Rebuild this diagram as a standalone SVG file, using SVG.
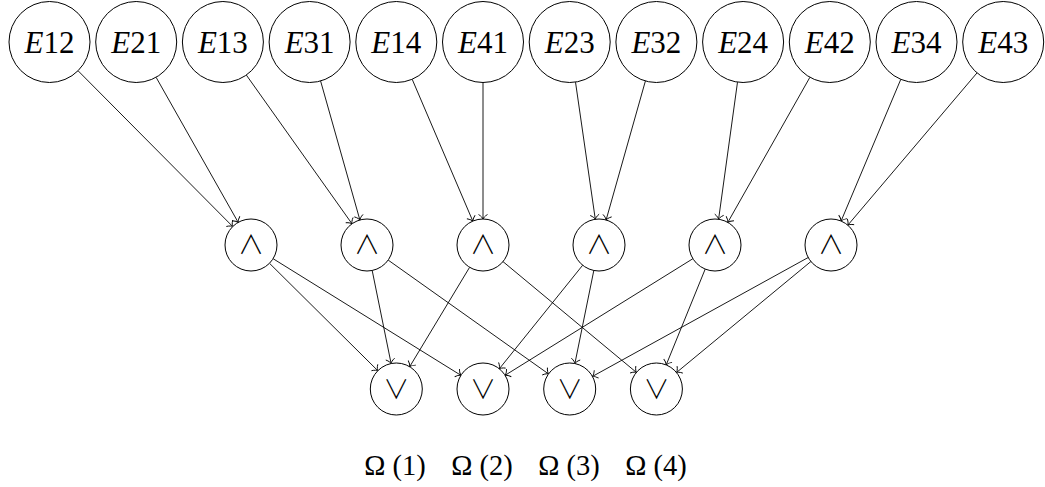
<svg xmlns="http://www.w3.org/2000/svg" width="1045" height="487" viewBox="0 0 1045 487">
<style>
.n{fill:#fff;stroke:#000;stroke-width:1}
.t{font-family:"Liberation Serif",serif;font-size:31px;text-anchor:middle}
.op{font-family:"Noto Sans CJK JP","DejaVu Sans",sans-serif;font-weight:300;font-size:26px;text-anchor:middle}
.lb{font-family:"Liberation Serif",serif;font-size:28.5px;text-anchor:middle}
.e{stroke:#000;stroke-width:0.9;fill:none;marker-end:url(#to)}
</style>
<defs>
<marker id="to" markerUnits="userSpaceOnUse" markerWidth="12" markerHeight="12" viewBox="-6 -6 12 12" refX="0" refY="0" orient="auto" overflow="visible">
<path d="M-4.5,-4.5 C-2.8,-1.6 -0.9,-0.4 0,0 C-0.9,0.4 -2.8,1.6 -4.5,4.5" fill="none" stroke="#000" stroke-width="0.9"/>
</marker>
</defs>
<g id="connectors">
<line class="e" x1="78.0" y1="70.7" x2="232.7" y2="226.5"/>
<line class="e" x1="156.1" y1="77.3" x2="238.2" y2="222.4"/>
<line class="e" x1="246.3" y1="75.0" x2="352.0" y2="223.8"/>
<line class="e" x1="320.6" y1="81.0" x2="359.9" y2="220.0"/>
<line class="e" x1="412.2" y1="79.3" x2="472.8" y2="221.1"/>
<line class="e" x1="483" y1="82.5" x2="483" y2="219"/>
<line class="e" x1="575.5" y1="82.1" x2="595.3" y2="219.3"/>
<line class="e" x1="645.4" y1="81.0" x2="606.1" y2="220.0"/>
<line class="e" x1="737.5" y1="82.1" x2="718.6" y2="219.2"/>
<line class="e" x1="809.9" y1="77.3" x2="727.8" y2="222.4"/>
<line class="e" x1="900.8" y1="79.3" x2="841.1" y2="221.0"/>
<line class="e" x1="977.0" y1="72.9" x2="847.8" y2="225.2"/>
<line class="e" x1="269.5" y1="263.3" x2="377.8" y2="370.7"/>
<line class="e" x1="273.1" y1="258.7" x2="460.9" y2="375.3"/>
<line class="e" x1="372.2" y1="270.5" x2="391.1" y2="363.5"/>
<line class="e" x1="388.2" y1="260.1" x2="548.5" y2="373.9"/>
<line class="e" x1="469.6" y1="267.3" x2="409.7" y2="366.7"/>
<line class="e" x1="503.0" y1="261.6" x2="636.4" y2="372.4"/>
<line class="e" x1="582.7" y1="265.2" x2="499.3" y2="368.8"/>
<line class="e" x1="593.8" y1="270.5" x2="574.9" y2="363.5"/>
<line class="e" x1="692.9" y1="258.7" x2="505.1" y2="375.3"/>
<line class="e" x1="705.2" y1="269.1" x2="666.2" y2="364.9"/>
<line class="e" x1="808.2" y1="257.5" x2="592.5" y2="376.4"/>
<line class="e" x1="810.9" y1="261.5" x2="676.5" y2="372.5"/>
</g>
<g id="E12"><circle class="n" cx="49.5" cy="42" r="40.5"/><text class="t" x="49.5" y="53"><tspan font-style="italic">E</tspan>12</text></g>
<g id="E21"><circle class="n" cx="136.2" cy="42" r="40.5"/><text class="t" x="136.2" y="53"><tspan font-style="italic">E</tspan>21</text></g>
<g id="E13"><circle class="n" cx="222.9" cy="42" r="40.5"/><text class="t" x="222.9" y="53"><tspan font-style="italic">E</tspan>13</text></g>
<g id="E31"><circle class="n" cx="309.6" cy="42" r="40.5"/><text class="t" x="309.6" y="53"><tspan font-style="italic">E</tspan>31</text></g>
<g id="E14"><circle class="n" cx="396.3" cy="42" r="40.5"/><text class="t" x="396.3" y="53"><tspan font-style="italic">E</tspan>14</text></g>
<g id="E41"><circle class="n" cx="483" cy="42" r="40.5"/><text class="t" x="483" y="53"><tspan font-style="italic">E</tspan>41</text></g>
<g id="E23"><circle class="n" cx="569.7" cy="42" r="40.5"/><text class="t" x="569.7" y="53"><tspan font-style="italic">E</tspan>23</text></g>
<g id="E32"><circle class="n" cx="656.4" cy="42" r="40.5"/><text class="t" x="656.4" y="53"><tspan font-style="italic">E</tspan>32</text></g>
<g id="E24"><circle class="n" cx="743.1" cy="42" r="40.5"/><text class="t" x="743.1" y="53"><tspan font-style="italic">E</tspan>24</text></g>
<g id="E42"><circle class="n" cx="829.8" cy="42" r="40.5"/><text class="t" x="829.8" y="53"><tspan font-style="italic">E</tspan>42</text></g>
<g id="E34"><circle class="n" cx="916.5" cy="42" r="40.5"/><text class="t" x="916.5" y="53"><tspan font-style="italic">E</tspan>34</text></g>
<g id="E43"><circle class="n" cx="1003.2" cy="42" r="40.5"/><text class="t" x="1003.2" y="53"><tspan font-style="italic">E</tspan>43</text></g>
<g id="and12"><circle class="n" cx="251" cy="245" r="26"/><text class="op" x="251" y="254">∧</text></g>
<g id="and13"><circle class="n" cx="367" cy="245" r="26"/><text class="op" x="367" y="254">∧</text></g>
<g id="and14"><circle class="n" cx="483" cy="245" r="26"/><text class="op" x="483" y="254">∧</text></g>
<g id="and23"><circle class="n" cx="599" cy="245" r="26"/><text class="op" x="599" y="254">∧</text></g>
<g id="and24"><circle class="n" cx="715" cy="245" r="26"/><text class="op" x="715" y="254">∧</text></g>
<g id="and34"><circle class="n" cx="831" cy="245" r="26"/><text class="op" x="831" y="254">∧</text></g>
<g id="or1"><circle class="n" cx="396.3" cy="389" r="26"/><text class="op" x="396.3" y="399">∨</text></g>
<g id="or2"><circle class="n" cx="483" cy="389" r="26"/><text class="op" x="483" y="399">∨</text></g>
<g id="or3"><circle class="n" cx="569.7" cy="389" r="26"/><text class="op" x="569.7" y="399">∨</text></g>
<g id="or4"><circle class="n" cx="656.4" cy="389" r="26"/><text class="op" x="656.4" y="399">∨</text></g>
<g id="labels">
<text class="lb" x="395" y="475">Ω (1)</text>
<text class="lb" x="482" y="475">Ω (2)</text>
<text class="lb" x="569" y="475">Ω (3)</text>
<text class="lb" x="656" y="475">Ω (4)</text>
</g>
</svg>
